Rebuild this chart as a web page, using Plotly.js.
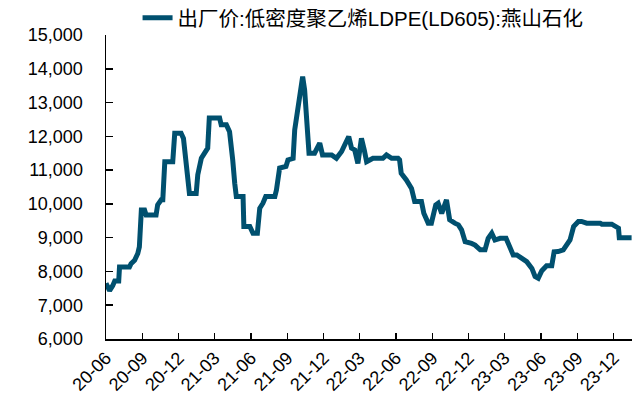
<!DOCTYPE html>
<html>
<head>
<meta charset="utf-8">
<script src="https://cdn.plot.ly/plotly-3.0.1.min.js"></script>
<style>html,body{margin:0;padding:0;background:#fff;}#chart{width:641px;height:409px;}</style>
</head>
<body>
<div id="chart"></div>
<script>
const seriesName = '出厂价:低密度聚乙烯LDPE(LD605):燕山石化';
const dates = [
 '2020-06-01','2020-06-10','2020-06-18','2020-06-23','2020-07-03','2020-07-05','2020-07-30','2020-08-03','2020-08-12','2020-08-20',
 '2020-08-24','2020-08-29','2020-09-06','2020-09-10','2020-10-05','2020-10-09','2020-10-18','2020-10-22','2020-10-27','2020-11-16',
 '2020-11-21','2020-12-07','2020-12-13','2020-12-18','2020-12-24','2020-12-28','2021-01-14','2021-01-18','2021-01-27','2021-02-12',
 '2021-02-16','2021-03-14','2021-03-18','2021-03-31','2021-04-08','2021-04-12','2021-04-16','2021-04-21','2021-04-25','2021-05-12',
 '2021-05-14','2021-05-29','2021-06-06','2021-06-17','2021-06-23','2021-07-01','2021-07-08','2021-07-31','2021-08-04','2021-08-12',
 '2021-08-21','2021-08-28','2021-09-02','2021-09-15','2021-09-19','2021-10-02','2021-10-09','2021-10-14','2021-10-25','2021-11-08',
 '2021-11-21','2021-11-28','2021-12-21','2022-01-02','2022-01-15','2022-01-23','2022-02-02','2022-02-09','2022-02-17','2022-02-25',
 '2022-03-06','2022-03-13','2022-03-19','2022-03-27','2022-04-04','2022-04-29','2022-05-08','2022-05-21','2022-06-06','2022-06-10',
 '2022-06-14','2022-06-27','2022-07-10','2022-07-18','2022-08-04','2022-08-10','2022-08-21','2022-08-29','2022-09-09','2022-09-15',
 '2022-09-24','2022-10-06','2022-10-14','2022-10-27','2022-11-05','2022-11-13','2022-11-22','2022-12-08','2022-12-17','2022-12-30',
 '2023-01-11','2023-01-19','2023-01-28','2023-02-05','2023-02-18','2023-03-05','2023-03-15','2023-03-23','2023-04-01','2023-04-13',
 '2023-04-26','2023-05-09','2023-05-17','2023-05-25','2023-06-03','2023-06-15','2023-06-28','2023-07-04','2023-07-14','2023-07-27',
 '2023-08-05','2023-08-13','2023-08-22','2023-09-03','2023-09-11','2023-09-24','2023-10-28','2023-11-01','2023-11-26','2023-12-04',
 '2023-12-13','2023-12-15','2024-01-15'
];
const prices = [
 7650,7430,7580,7720,7720,8130,8130,8230,8330,8530,
 8730,9820,9820,9670,9670,9970,10120,10120,11250,11250,
 12090,12090,11940,11300,10710,10310,10310,10860,11350,11650,
 12540,12540,12340,12340,12140,11800,11300,10610,10220,10220,
 9330,9330,9130,9130,9870,10020,10220,10220,10410,11060,
 11110,11110,11300,11350,12190,13180,13770,13370,11500,11500,
 11800,11450,11450,11350,11550,11750,11990,11650,11600,11200,
 11940,11600,11250,11300,11350,11350,11450,11350,11350,11300,
 10910,10710,10460,10070,10070,9720,9430,9430,9970,10020,
 9720,10120,9530,9430,9380,9230,8880,8830,8780,8640,
 8640,8980,9130,8930,8980,8980,8690,8490,8490,8390,
 8290,8090,7850,7800,8020,8170,8170,8580,8590,8640,
 8780,8930,9330,9480,9480,9430,9430,9400,9400,9330,
 9280,9000,9000
];
const tickDates = ['2020-06-01','2020-09-01','2020-12-01','2021-03-01','2021-06-01','2021-09-01','2021-12-01','2022-03-01','2022-06-01','2022-09-01','2022-12-01','2023-03-01','2023-06-01','2023-09-01','2023-12-01'];
const tickLabels = ['20-06','20-09','20-12','21-03','21-06','21-09','21-12','22-03','22-06','22-09','22-12','23-03','23-06','23-09','23-12'];

const trace = {
  x: dates, y: prices, type: 'scatter', mode: 'lines', name: seriesName,
  line: {color: '#00506F', width: 5}
};
const tickFont = {family: 'Liberation Sans, Arial, sans-serif', size: 18, color: '#000'};
const layout = {
  width: 641, height: 409,
  margin: {l: 106, r: 9, t: 35, b: 70, autoexpand: false},
  paper_bgcolor: '#fff', plot_bgcolor: '#fff',
  showlegend: true,
  legend: {orientation: 'h', x: 0.06, xanchor: 'left', y: 1.056, yanchor: 'middle',
    font: {family: 'Liberation Sans, Noto Sans CJK SC, sans-serif', size: 20.5, color: '#000'},
    bgcolor: 'rgba(0,0,0,0)'},
  xaxis: {
    type: 'date', range: ['2020-06-01', '2024-01-16'],
    tickvals: tickDates, ticktext: tickLabels, tickangle: -45,
    ticks: 'inside', ticklen: 6, tickwidth: 1.5, tickcolor: '#000',
    showline: true, linecolor: '#000', linewidth: 1.5,
    showgrid: false, zeroline: false, tickfont: tickFont, ticklabelstandoff: 0
  },
  yaxis: {
    range: [6000, 15000], dtick: 1000, tick0: 6000, tickformat: ',d',
    ticks: 'inside', ticklen: 7, tickwidth: 1.5, tickcolor: '#000',
    showline: true, linecolor: '#000', linewidth: 1.5,
    showgrid: false, zeroline: false, tickfont: tickFont, ticklabelstandoff: 18
  }
};
Plotly.newPlot('chart', [trace], layout, {staticPlot: true, displayModeBar: false});
</script>
</body>
</html>
